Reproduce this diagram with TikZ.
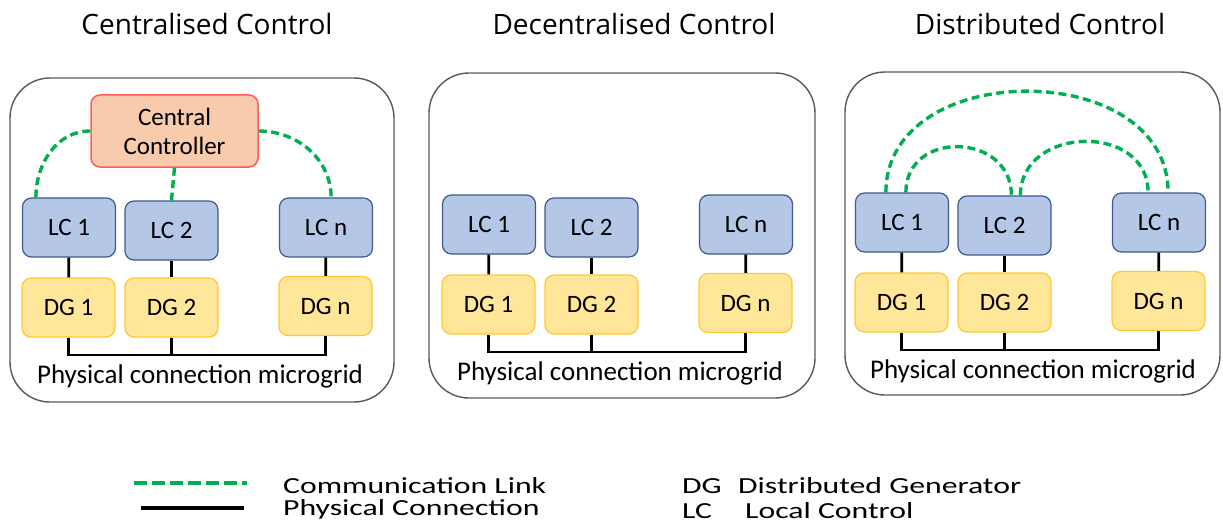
\documentclass[tikz,border=0pt]{standalone}
\usepackage{fontspec}
\setmainfont{Carlito}
\newfontfamily\titlefont{Open Sans}
\definecolor{lcfill}{HTML}{B4C7E7}
\definecolor{lcline}{HTML}{3F5A8C}
\definecolor{dgfill}{HTML}{FFE699}
\definecolor{dgline}{HTML}{FFC832}
\definecolor{ccfill}{HTML}{F8CBAD}
\definecolor{ccline}{HTML}{FF5B5B}
\definecolor{commgreen}{HTML}{00B050}
\newcommand{\wide}[1]{\scalebox{1.38}[1]{#1}}

\begin{document}
\begin{tikzpicture}[x=1pt,y=-1pt,
    box/.style={draw,line width=1.2pt,rounded corners=9pt,minimum width=93pt,minimum height=59pt,inner sep=0pt,font=\fontsize{25}{29}\selectfont},
    lcbox/.style={box,fill=lcfill,draw=lcline},
    dgbox/.style={box,fill=dgfill,draw=dgline},
    panel/.style={draw=black!65,line width=1.4pt,rounded corners=40pt},
    comm/.style={draw=commgreen,line width=3.4pt,dash pattern=on 8pt off 4.5pt},
    phys/.style={draw=black,line width=2.8pt},
    heading/.style={font=\titlefont\fontsize{28}{32}\selectfont},
    legend/.style={anchor=base west,inner sep=0pt,font=\fontsize{23}{26}\selectfont}]
  \useasboundingbox (0,0) rectangle (1223,524);
  % titles
  \node[heading] (titleA) at (207,24) {Centralised Control};
  \node[heading] (titleB) at (634,24) {Decentralised Control};
  \node[heading] (titleC) at (1040,24) {Distributed Control};
  % frames
  \draw[panel] (10,78) rectangle (394,402);
  \draw[panel] (429,73) rectangle (815,398);
  \draw[panel] (845,72) rectangle (1220,395);
  % the three microgrids
  \foreach \p/\dx/\dy in {A/0/0,B/420/-3,C/833/-5}
  {
    \begin{scope}[shift={(\dx,\dy)}]
      \node[lcbox] (lc1\p) at (69,227.5) {LC 1};
      \node[lcbox] (lc2\p) at (171.5,230.5) {LC 2};
      \node[lcbox] (lcn\p) at (326,227.5) {LC n};
      \node[dgbox] (dg1\p) at (68.5,307.5) {DG 1};
      \node[dgbox] (dg2\p) at (171.5,307.5) {DG 2};
      \node[dgbox] (dgn\p) at (325.5,306) {DG n};
      \coordinate (bus\p) at (171.5,355);
      \draw[phys] (lc1\p) -- (dg1\p);
      \draw[phys] (lc2\p) -- (dg2\p);
      \draw[phys] (lcn\p) -- (dgn\p);
      \draw[phys] (dg1\p.south) |- (bus\p) -| (dgn\p.south);
      \draw[phys] (dg2\p.south) -- (bus\p);
      \node[font=\fontsize{27}{30}\selectfont] (grid\p) at (200,376) {Physical connection microgrid};
    \end{scope}
  }
  % centralised
  \node[box,fill=ccfill,draw=ccline,line width=1.5pt,minimum width=167pt,minimum height=72pt,align=center] (cc) at (174.5,131) {Central\\Controller};
  \draw[comm] (cc.west) to[out=180,in=90] ([xshift=14pt]lc1A.north west);
  \draw[comm] (cc.south) -- (lc2A.north);
  \draw[comm] (cc.east) to[out=0,in=90] ([xshift=-42pt]lcnA.north east);
  % distributed
  \draw[comm] ([xshift=31pt]lc1C.north west) .. controls +(0,-135) and +(0,-135) .. ([xshift=-38pt]lcnC.north east);
  \draw[comm] ([xshift=51pt]lc1C.north west) .. controls +(0,-63) and +(0,-63) .. ([xshift=54pt]lc2C.north west);
  \draw[comm] ([xshift=63pt]lc2C.north west) .. controls +(0,-70) and +(0,-70) .. ([xshift=-58pt]lcnC.north east);
  % legend
  \coordinate (commL) at (134,483);
  \coordinate (commR) at (247,483);
  \coordinate (physL) at (141,508);
  \coordinate (physR) at (244,508);
  \draw[comm,line width=4pt,dash pattern=on 13pt off 5pt] (commL) -- (commR);
  \draw[phys,line width=4pt] (physL) -- (physR);
  \node[legend] (txtcomm) at (283,493) {\wide{Communication Link}};
  \node[legend] (txtphys) at (283,515) {\wide{Physical Connection}};
  \node[legend] (abbrdg) at (682,493) {\wide{DG}};
  \node[legend] (txtdg) at (738,493) {\wide{Distributed Generator}};
  \node[legend] (abbrlc) at (682,518) {\wide{LC}};
  \node[legend] (txtlc) at (745,518) {\wide{Local Control}};
\end{tikzpicture}
\end{document}
